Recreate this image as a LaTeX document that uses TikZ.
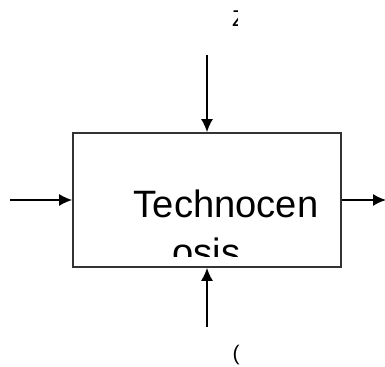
\documentclass[tikz,border=0pt]{standalone}
\usepackage{fontspec}
\setmainfont{Liberation Sans}
\usetikzlibrary{arrows.meta}
\begin{document}
\begin{tikzpicture}[>={Latex[length=0.26cm,width=0.24cm]}, line width=0.85pt]
	\useasboundingbox (0,0) rectangle (7.7,7.34);
	\node [draw, line width=1pt, color=black!80, minimum width=5.36cm, minimum height=2.68cm] (tc) at (4.14,3.34) {};
	\coordinate (inZ) at (4.14,6.24);
	\coordinate (inU) at (4.14,0.8);
	\coordinate (inX) at (0.2,3.34);
	\coordinate (outY) at (7.72,3.34);
	\draw [->] (inZ) -- (tc.north);
	\draw [->] (inU) -- (tc.south);
	\draw [->] (inX) -- (tc.west);
	\draw [->] (tc.east) -- (outY);
	\node [anchor=base, font=\fontsize{21.7}{25}\selectfont] (name) at (4.52,2.98) {Technocen};
	\begin{scope}
		\clip (1.5,2.2) rectangle (6.8,4.6);
		\node [anchor=base, font=\fontsize{21.7}{25}\selectfont] (name2) at (4.13,2.03) {osis};
	\end{scope}
	% cut labels
	\begin{scope}
		\clip (4.6,6.7) rectangle (4.75,7.15);
		\node [anchor=base west, inner sep=0pt, font=\fontsize{13}{15}\selectfont] (lz) at (4.63,6.8) {Z};
	\end{scope}
	\begin{scope}
		\clip (4.66,0.05) rectangle (4.78,0.5);
		\node [anchor=base west, inner sep=0pt, font=\fontsize{12}{14}\selectfont] (lu) at (4.64,0.12) {(};
	\end{scope}
\end{tikzpicture}
\end{document}
